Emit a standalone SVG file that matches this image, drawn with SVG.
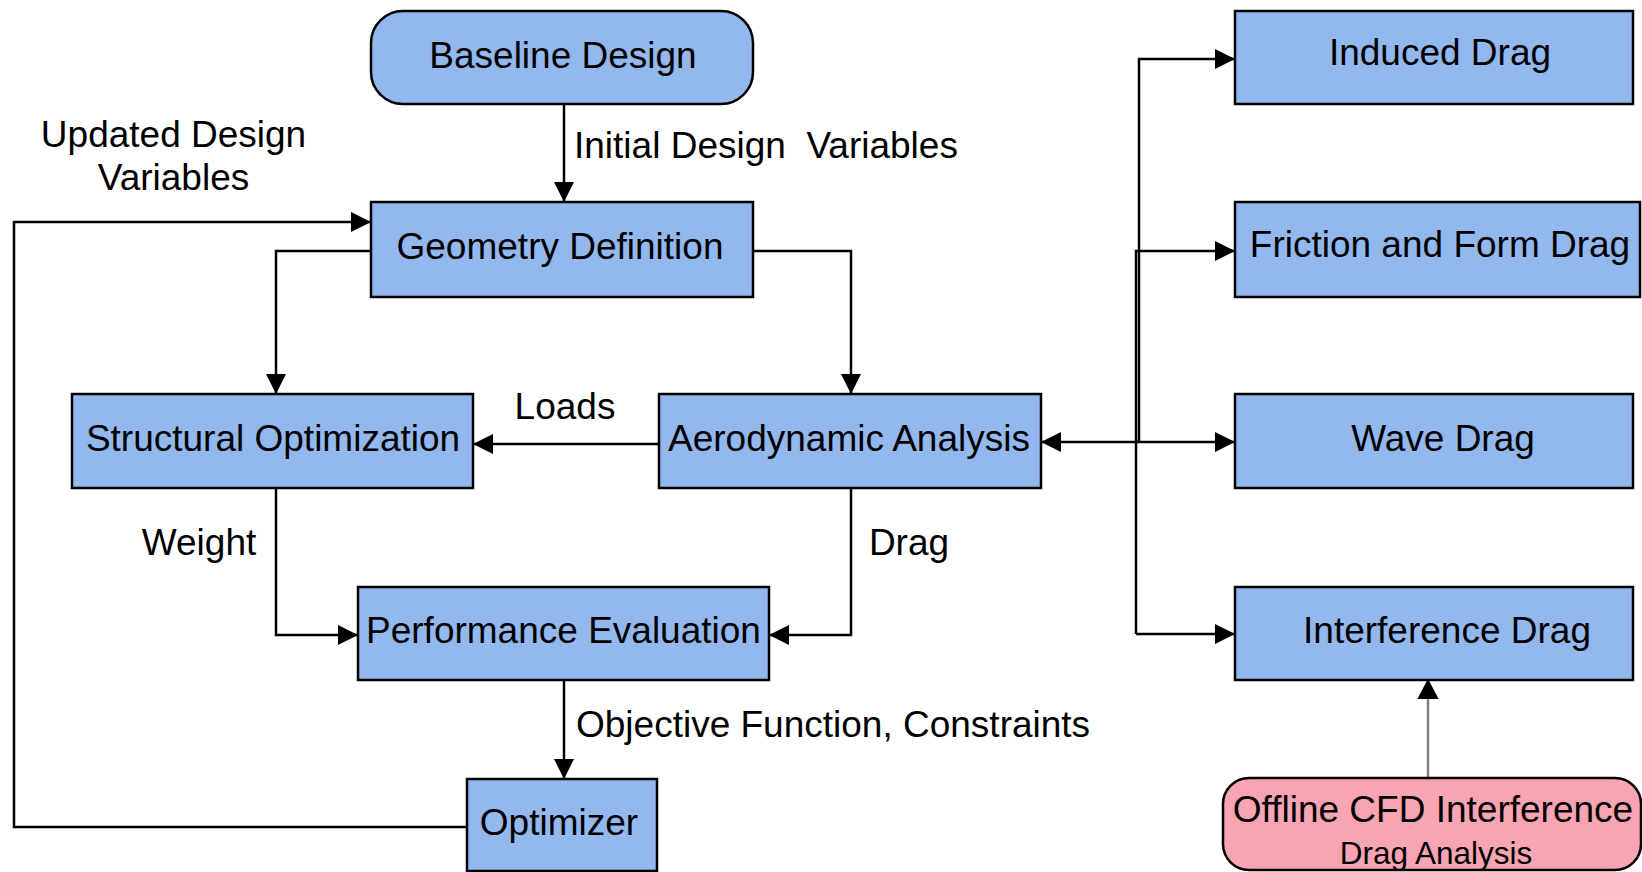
<svg xmlns="http://www.w3.org/2000/svg" width="1642" height="872" viewBox="0 0 1642 872">
<defs>
<style>
.box{fill:#93B8EE;stroke:#000;stroke-width:2.5}
.pink{fill:#F9A4B2;stroke:#000;stroke-width:2.5}
.t{font-family:"Liberation Sans",Arial,sans-serif;font-size:37px;fill:#000}
.c{text-anchor:middle}
.small{font-size:31.5px}
.ln{fill:none;stroke:#000;stroke-width:2.5}
.gl{fill:none;stroke:#808080;stroke-width:2.5}
</style>
<marker id="ah" markerUnits="userSpaceOnUse" markerWidth="20" markerHeight="20" refX="20" refY="10" orient="auto">
<path d="M0,0 L20,10 L0,20 z" fill="#000"/>
</marker>
</defs>
<rect width="1642" height="872" fill="#fff"/>
<g id="connectors">
<path class="ln" d="M564,104 V202" marker-end="url(#ah)"/>
<path class="ln" d="M371,251 H276 V394" marker-end="url(#ah)"/>
<path class="ln" d="M753,251 H851 V394" marker-end="url(#ah)"/>
<path class="ln" d="M659,444 H473" marker-end="url(#ah)"/>
<path class="ln" d="M276,488 V635 H358" marker-end="url(#ah)"/>
<path class="ln" d="M851,488 V635 H769" marker-end="url(#ah)"/>
<path class="ln" d="M564,680 V779" marker-end="url(#ah)"/>
<path class="ln" d="M467,827 H14 V222 H371" marker-end="url(#ah)"/>
<path class="ln" d="M1138,442 H1041" stroke-width="3" marker-end="url(#ah)"/>
<path class="ln" d="M1139,443 V59 H1235" marker-end="url(#ah)"/>
<path class="ln" d="M1136,634 V251 H1235" marker-end="url(#ah)"/>
<path class="ln" d="M1136,442 H1235" marker-end="url(#ah)"/>
<path class="ln" d="M1136,634 H1235" marker-end="url(#ah)"/>
<path class="gl" d="M1428,778 V697"/>
<path d="M1419,698 L1428,681 L1437,698 z" fill="#000" stroke="#000" stroke-width="2"/>
</g>
<g id="labels">
<text class="t" x="574" y="158" xml:space="preserve">Initial Design  Variables</text>
<text class="t c" x="173.5" y="147">Updated Design</text>
<text class="t c" x="173.5" y="190">Variables</text>
<text class="t c" x="565" y="419">Loads</text>
<text class="t c" x="199" y="555">Weight</text>
<text class="t c" x="909" y="555">Drag</text>
<text class="t" x="576" y="737">Objective Function, Constraints</text>
</g>
<g id="baseline-design">
<rect class="box" x="371" y="11" width="382" height="93" rx="32" ry="32"/>
<text class="t c" x="563" y="68">Baseline Design</text>
</g>
<g id="geometry-definition">
<rect class="box" x="371" y="202" width="382" height="95"/>
<text class="t c" x="560" y="259">Geometry Definition</text>
</g>
<g id="structural-optimization">
<rect class="box" x="72" y="394" width="401" height="94"/>
<text class="t c" x="273" y="451">Structural Optimization</text>
</g>
<g id="aerodynamic-analysis">
<rect class="box" x="659" y="394" width="382" height="94"/>
<text class="t c" x="849" y="451">Aerodynamic Analysis</text>
</g>
<g id="performance-evaluation">
<rect class="box" x="358" y="587" width="411" height="93"/>
<text class="t c" x="563.5" y="643">Performance Evaluation</text>
</g>
<g id="optimizer">
<rect class="box" x="467" y="779" width="190" height="92"/>
<text class="t c" x="559" y="835">Optimizer</text>
</g>
<g id="induced-drag">
<rect class="box" x="1235" y="11" width="398" height="93"/>
<text class="t c" x="1440" y="65">Induced Drag</text>
</g>
<g id="friction-form-drag">
<rect class="box" x="1235" y="202" width="405" height="95"/>
<text class="t c" x="1440" y="257">Friction and Form Drag</text>
</g>
<g id="wave-drag">
<rect class="box" x="1235" y="394" width="398" height="94"/>
<text class="t c" x="1443" y="451">Wave Drag</text>
</g>
<g id="interference-drag">
<rect class="box" x="1235" y="587" width="398" height="93"/>
<text class="t c" x="1447" y="643">Interference Drag</text>
</g>
<g id="offline-cfd">
<rect class="pink" x="1223" y="778" width="418" height="92" rx="26" ry="26"/>
<text class="t c" x="1433" y="822">Offline CFD Interference</text>
<text class="t c small" x="1436" y="864">Drag Analysis</text>
</g>
</svg>
